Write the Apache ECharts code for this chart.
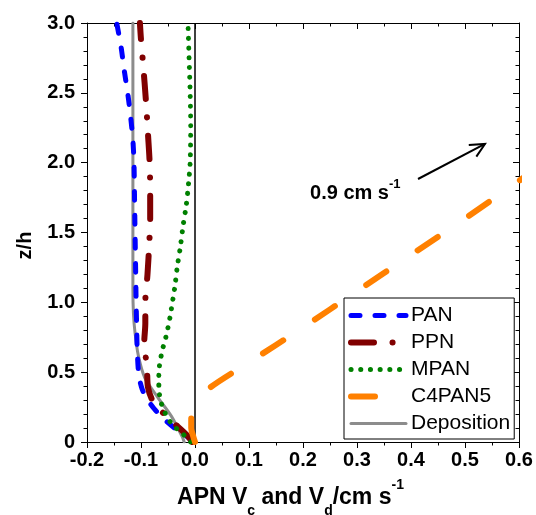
<!DOCTYPE html>
<html><head><meta charset="utf-8">
<script src="https://cdn.jsdelivr.net/npm/echarts@6/dist/echarts.min.js"></script>
<style>html,body{margin:0;padding:0;background:#fff}#c{width:536px;height:515px}</style>
</head><body><div id="c"></div>
<script>
// ---- axis ranges / ticks ----
const X_MIN = -0.2, X_MAX = 0.6, X_STEP = 0.1;
const Y_MIN = 0, Y_MAX = 3.0, Y_STEP = 0.5;

// ---- series data: [APN velocity (cm/s), z/h] ----
const PAN = [[-0.003,0],[-0.015,0.04],[-0.038,0.10],[-0.059,0.17],[-0.076,0.24],[-0.089,0.31],[-0.098,0.38],[-0.104,0.48],[-0.107,0.66],[-0.108,0.82],[-0.109,1.0],[-0.110,1.25],[-0.111,1.5],[-0.112,1.75],[-0.113,2.0],[-0.115,2.16],[-0.119,2.32],[-0.124,2.48],[-0.131,2.66],[-0.137,2.83],[-0.145,3.0]];
const PPN = [[-0.005,0],[-0.015,0.05],[-0.046,0.16],[-0.076,0.28],[-0.087,0.39],[-0.089,0.54],[-0.094,0.71],[-0.092,0.85],[-0.092,1.0],[-0.088,1.2],[-0.085,1.4],[-0.083,1.6],[-0.083,1.8],[-0.084,2.0],[-0.087,2.2],[-0.091,2.45],[-0.096,2.7],[-0.100,2.88],[-0.102,3.0]];
const MPAN = [[-0.008,0],[-0.024,0.064],[-0.041,0.12],[-0.053,0.19],[-0.061,0.26],[-0.065,0.32],[-0.067,0.39],[-0.067,0.47],[-0.066,0.54],[-0.063,0.61],[-0.059,0.68],[-0.054,0.75],[-0.050,0.82],[-0.046,0.9],[-0.041,1.02],[-0.037,1.12],[-0.033,1.25],[-0.027,1.4],[-0.022,1.55],[-0.016,1.7],[-0.012,1.85],[-0.009,2.0],[-0.008,2.25],[-0.009,2.5],[-0.011,2.75],[-0.013,3.0]];
const C4PAN5 = [[0,0],[-0.004,0.05],[-0.007,0.1],[-0.007,0.17],[-0.002,0.24],[0.010,0.31],[0.028,0.39],[0.1,0.57],[0.2,0.82],[0.3,1.08],[0.4,1.34],[0.5,1.60],[0.6,1.87],[0.7,2.14]];
const DEPOSITION = [[-0.020,0],[-0.024,0.04],[-0.043,0.18],[-0.069,0.32],[-0.093,0.46],[-0.105,0.62],[-0.111,0.78],[-0.114,0.92],[-0.115,1.1],[-0.115,2.0],[-0.115,3.0]];
const ZERO_LINE = [[0,0],[0,3.0]];

// ---- annotation (data coords) ----
const ARROW = [[0.413,1.883],[0.537,2.134]];
const ARROW_HEAD = [[0.507,2.126],[0.537,2.134],[0.521,2.043]];
const NOTE_POS = [0.213, 1.778];
const NOTE_MAIN = '0.9 cm s', NOTE_SUP = '-1';

const FONT = '"Liberation Sans", Arial, sans-serif';
const chart = echarts.init(document.getElementById('c'));

const tickStyle = {color:'#000', width:1};
function xAxisDef(pos, main){
  return {
    type:'value', min:X_MIN, max:X_MAX, interval:X_STEP, position:pos,
    axisLine:{show:true, onZero:false, lineStyle:{color:'#000', width:1}},
    axisTick:{show:true, inside:!main, length:6, lineStyle:tickStyle},
    minorTick:{show:true, splitNumber:2, length:3.5, lineStyle:tickStyle},
    splitLine:{show:false}, minorSplitLine:{show:false},
    axisLabel:{show:main, margin:8, color:'#000', fontSize:20, fontWeight:'bold', fontFamily:FONT,
      showMinLabel:true, showMaxLabel:true, formatter:v=>v.toFixed(1)},
    name: main ? '{m|APN V}{s|c}{m| and V}{s|d}{m|/cm s}{p|-1}' : '',
    nameLocation:'middle', nameGap:36,
    nameTextStyle:{padding:[0,25,0,0], rich:{
      m:{fontSize:23, fontWeight:'bold', fontFamily:FONT, color:'#000', lineHeight:40},
      s:{fontSize:14, fontWeight:'bold', fontFamily:FONT, color:'#000', lineHeight:14, verticalAlign:'bottom'},
      p:{fontSize:14, fontWeight:'bold', fontFamily:FONT, color:'#000', lineHeight:14, verticalAlign:'top'}
    }}
  };
}
function yAxisDef(pos, main){
  return {
    type:'value', min:Y_MIN, max:Y_MAX, interval:Y_STEP, position:pos,
    axisLine:{show:true, onZero:false, lineStyle:{color:'#000', width:1}},
    axisTick:{show:true, inside:!main, length:6, lineStyle:tickStyle},
    minorTick:{show:true, splitNumber:5, length:3.5, lineStyle:tickStyle},
    splitLine:{show:false}, minorSplitLine:{show:false},
    axisLabel:{show:main, margin:12, color:'#000', fontSize:20, fontWeight:'bold', fontFamily:FONT,
      showMinLabel:true, showMaxLabel:true, formatter:v=> v===0 ? '0' : v.toFixed(1)},
    name: main ? 'z/h' : '', nameLocation:'middle', nameGap:52,
    nameTextStyle:{color:'#000', fontSize:20, fontWeight:'bold', fontFamily:FONT, padding:[0,26,0,0]}
  };
}

function curve(name, data, color, width, dash, z){
  return {name, type:'line', data, symbol:'none', showSymbol:false, smooth:0.3, z,
    lineStyle:{color, width, type:dash, cap:'round', join:'round'},
    itemStyle:{color}, emphasis:{disabled:true}, silent:true};
}

const option = {
  animation:false,
  backgroundColor:'#fff',
  grid:{left:87, right:17, top:23, bottom:73, containLabel:false, outerBoundsMode:'none'},
  xAxis:[xAxisDef('bottom', true), xAxisDef('top', false)],
  yAxis:[yAxisDef('left', true), yAxisDef('right', false)],
  legend:{
    data:['PAN','PPN','MPAN','C4PAN5','Deposition'],
    orient:'vertical', left:344, top:298,
    itemWidth:55, itemHeight:14, itemGap:6,
    padding:[7,4,5,4],
    borderColor:'#000', borderWidth:1, borderRadius:0, backgroundColor:'#fff',
    textStyle:{color:'#000', fontSize:21, fontFamily:FONT},
    lineStyle:{width:'inherit'},
    itemStyle:{opacity:0},
    selectedMode:false
  },
  series:[
    {name:'zero', type:'line', data:ZERO_LINE, symbol:'none', z:1, silent:true,
      lineStyle:{color:'#000', width:1.5}},
    curve('PAN', PAN, '#0000ff', 5, [9,15], 4),
    curve('PPN', PPN, '#800000', 6, [23,18.5,0.1,18.5], 4),
    curve('MPAN', MPAN, '#008000', 5, [0.1,9.6], 4),
    curve('C4PAN5', C4PAN5, '#ff8000', 6, [24,38], 4),
    curve('Deposition', DEPOSITION, '#8c8c8c', 3, 'solid', 2),
    {name:'arrow', type:'line', data:ARROW, symbol:'none', z:5, silent:true,
      lineStyle:{color:'#000', width:2}},
    {name:'arrowHead', type:'line', data:ARROW_HEAD, symbol:'none', z:5, silent:true,
      lineStyle:{color:'#000', width:2, join:'miter'}}
  ]
};
chart.setOption(option);

const p = chart.convertToPixel({xAxisIndex:0, yAxisIndex:0}, NOTE_POS);
chart.setOption({graphic:[{
  type:'text', x:p[0], y:p[1], silent:true, z:10,
  style:{text:'{a|'+NOTE_MAIN+'}{b|'+NOTE_SUP+'}', align:'left', verticalAlign:'middle',
    rich:{
      a:{fontSize:20, fontWeight:'bold', fontFamily:FONT, fill:'#000', lineHeight:32},
      b:{fontSize:13, fontWeight:'bold', fontFamily:FONT, fill:'#000', lineHeight:14, verticalAlign:'top'}
    }}
}]});
</script></body></html>
